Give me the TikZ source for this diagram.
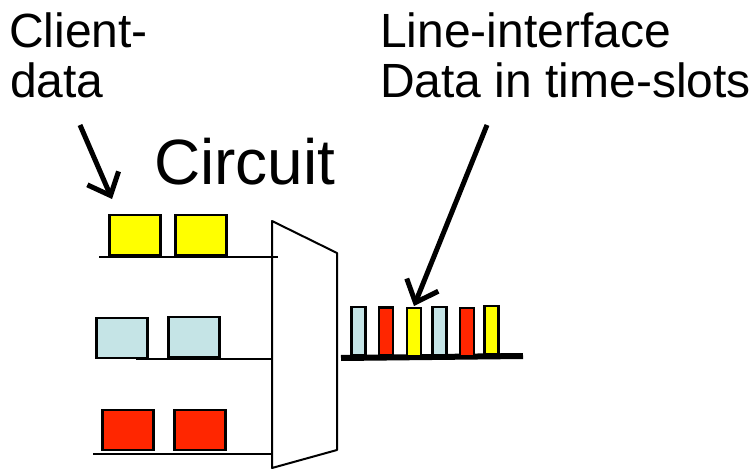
\documentclass[tikz,border=0pt]{standalone}
\usepackage{fontspec}
\setmainfont{Liberation Sans}
\usetikzlibrary{arrows.meta}

\definecolor{slotyellow}{RGB}{255,255,0}
\definecolor{slotblue}{RGB}{197,228,230}
\definecolor{slotred}{RGB}{255,38,0}

\tikzset{
  label47/.style={inner sep=0pt, anchor=base west, font=\fontsize{48}{52}\selectfont},
  cellbox/.style={draw=black, line width=2.5pt, inner sep=0pt, outer sep=0pt,
                  minimum width=51pt, minimum height=40pt},
  slotbar/.style={draw=black, line width=2.4pt, inner sep=0pt, outer sep=0pt,
                  minimum width=14pt, minimum height=48pt, anchor=south},
  feedline/.style={line width=1.8pt},
  pointer/.style={line width=5pt, -{Straight Barb[length=19pt,width=34pt,line width=5pt]}},
}

\begin{document}
\begin{tikzpicture}[x=1pt,y=-1pt]
  \useasboundingbox (0,0) rectangle (755,470);

  % labels
  \node[label47] (cl1) at (9,48) {Client-};
  \node[label47] (cl2) at (10,98) {data};
  \node[label47] (li1) at (380,48) {Line-interface};
  \node[label47] (li2) at (380,98) {Data in time-slots};
  \node[inner sep=0pt, anchor=base west, font=\fontsize{64}{70}\selectfont] (circ) at (154,185) {Circuit};

  % client data on the three input lines
  \node[cellbox, fill=slotyellow] (y1) at (135,235) {};
  \node[cellbox, fill=slotyellow] (y2) at (201,235) {};
  \node[cellbox, fill=slotblue]   (b1) at (122,338) {};
  \node[cellbox, fill=slotblue]   (b2) at (194,337) {};
  \node[cellbox, fill=slotred]    (r1) at (128,430) {};
  \node[cellbox, fill=slotred]    (r2) at (200,430) {};

  % multiplexer outline
  \coordinate (mtl) at (272,221);
  \coordinate (mtr) at (337,253);
  \coordinate (mbr) at (337,450);
  \coordinate (mbl) at (272,468);
  \draw[line width=2pt, line join=round] (mtl) -- (mtr) -- (mbr) -- (mbl) -- cycle;

  % input lines
  \coordinate (l1a) at (99,257);  \coordinate (l1b) at (278,257);
  \coordinate (l2a) at (136,359); \coordinate (l2b) at (272,359);
  \coordinate (l3a) at (93,454);  \coordinate (l3b) at (272,454);
  \draw[feedline] (l1a) -- (l1b);
  \draw[feedline] (l2a) -- (l2b);
  \draw[feedline] (l3a) -- (l3b);

  % output line with time slots
  \coordinate (oa) at (341,358);
  \coordinate (ob) at (523,356);
  \draw[line width=6pt] (oa) -- (ob);
  \node[slotbar, fill=slotblue]   (s1) at (358.5,355) {};
  \node[slotbar, fill=slotred]    (s2) at (386,355.5) {};
  \node[slotbar, fill=slotyellow] (s3) at (414,356) {};
  \node[slotbar, fill=slotblue]   (s4) at (439.5,355) {};
  \node[slotbar, fill=slotred]    (s5) at (467,356) {};
  \node[slotbar, fill=slotyellow] (s6) at (491.5,354) {};

  % pointers
  \coordinate (pc) at (80,125);
  \coordinate (pct) at (112,199);
  \draw[pointer] (pc) -- (pct);
  \coordinate (pl) at (487,125);
  \coordinate (plt) at (414,306);
  \draw[pointer] (pl) -- (plt);
\end{tikzpicture}
\end{document}
